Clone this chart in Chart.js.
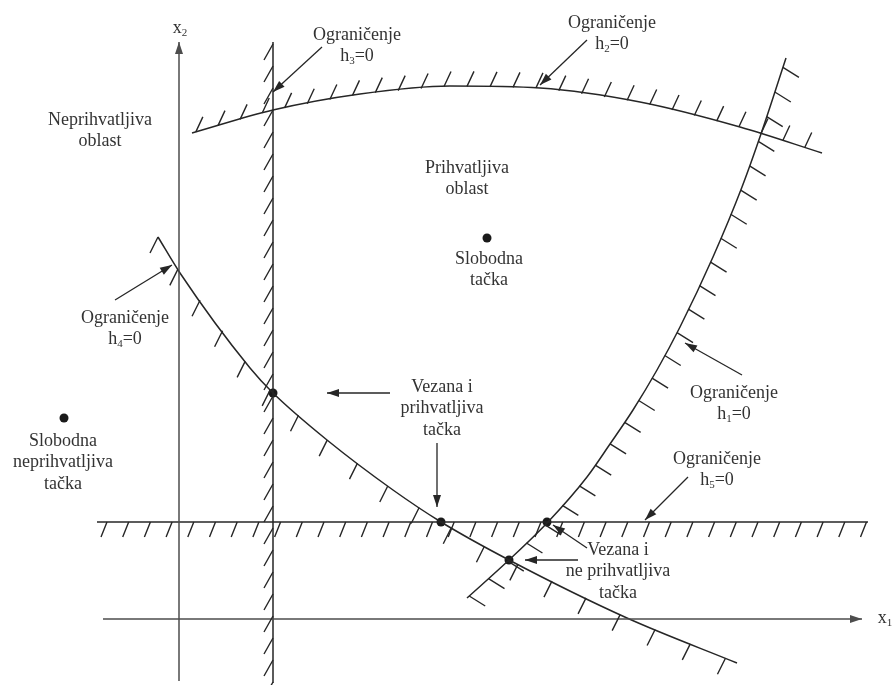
<!DOCTYPE html>
<html>
<head>
<meta charset="utf-8">
<script src="https://cdn.jsdelivr.net/npm/chart.js@4.4.1/dist/chart.umd.min.js"></script>
<style>
    body { margin: 0; background: #fff; }
    canvas { display: block; }
</style>
</head>
<body>
<canvas id="constraintChart" width="893" height="685"></canvas>
<script>
// Ogranicenja (x1 = horizontalno, x2 = vertikalno, ishodiste u presjeku osa)
const h1X = [288, 330, 369, 408, 431, 454, 478, 501, 534, 563, 583, 607];
const h1Y = [21, 59, 97, 142, 175, 209, 249, 292, 362, 432, 488, 561];

const h2X = [13, 94, 181, 271, 361, 461, 561, 643];
const h2Y = [486, 509, 525, 533, 531, 517, 492, 466];

const h3X = [94, 94];
const h3Y = [577, -64];

const h4X = [-21, 1, 71, 94, 148, 214, 262, 330, 448, 558];
const h4Y = [382, 346, 251, 226, 179, 129, 97, 59, 1, -44];

const h5X = [-82, 689];
const h5Y = [97, 97];

// ose
const x1AxisX = [-76, 683];
const x1AxisY = [0, 0];
const x2AxisX = [0, 0];
const x2AxisY = [-62, 577];

// karakteristicne tacke
const pointX = [94, 262, 368, 330, 308, -115];
const pointY = [226, 97, 97, 59, 381, 201];

// strelice koje pokazuju na ogranicenja / tacke (od -> do)
const arrowFromX = [143, 408, -64, 211, 258, 563, 509, 408, 399];
const arrowFromY = [572, 579, 319, 226, 176, 244, 142, 71, 59];
const arrowToX = [94, 361, -7, 148, 258, 506, 466, 374, 346];
const arrowToY = [527, 534, 354, 226, 112, 276, 99, 94, 59];

// natpisi (linije teksta, _ oznacava indeks)
const noteTexts = [
    ['Ograničenje', 'h_3=0'],
    ['Ograničenje', 'h_2=0'],
    ['Neprihvatljiva', 'oblast'],
    ['Prihvatljiva', 'oblast'],
    ['Slobodna', 'tačka'],
    ['Ograničenje', 'h_4=0'],
    ['Slobodna', 'neprihvatljiva', 'tačka'],
    ['Vezana i', 'prihvatljiva', 'tačka'],
    ['Ograničenje', 'h_1=0'],
    ['Ograničenje', 'h_5=0'],
    ['Vezana i', 'ne prihvatljiva', 'tačka'],
    ['x_2'],
    ['x_1']
];
const noteX = [178, 433, -79, 288, 310, -54, -116, 263, 555, 538, 439, 1, 706];
const noteY = [584, 596, 499, 451, 360, 301, 178, 232, 226, 160, 69, 591, 1];

const lineColor = '#262626';
const axisColor = '#4d4d4d';
const textColor = '#333333';

function toPoints(xs, ys) {
    return xs.map((x, i) => ({ x: x, y: ys[i] }));
}

// crtanje srafure, strelica i teksta
const sketchPlugin = {
    id: 'sketch',
    afterDatasetsDraw(chart) {
        const ctx = chart.ctx;
        ctx.save();
        chart.data.datasets.forEach((ds, i) => {
            const pts = chart.getDatasetMeta(i).data.map(p => ({ x: p.x, y: p.y }));
            if (ds.hatch) {
                drawHatch(ctx, pts, ds.hatch, ds.borderColor);
            }
            if (ds.arrowHead) {
                drawArrowHead(ctx, pts[pts.length - 2], pts[pts.length - 1], ds.borderColor);
            }
        });

        const xs = chart.scales.x;
        const ys = chart.scales.y;
        ctx.fillStyle = textColor;
        ctx.textBaseline = 'middle';
        noteTexts.forEach((lines, i) => {
            const cx = xs.getPixelForValue(noteX[i]);
            const cy = ys.getPixelForValue(noteY[i]);
            lines.forEach((line, j) => drawRich(ctx, line, cx, cy + j * 21.5));
        });
        ctx.restore();
    }
};

function drawHatch(ctx, pts, h, color) {
    const seg = [];
    let total = 0;
    for (let i = 1; i < pts.length; i++) {
        const len = Math.hypot(pts[i].x - pts[i - 1].x, pts[i].y - pts[i - 1].y);
        seg.push(len);
        total += len;
    }
    ctx.strokeStyle = color;
    ctx.lineWidth = 1.4;
    ctx.beginPath();
    for (let d = h.start; d <= total; d += h.step) {
        let rest = d, k = 0;
        while (k < seg.length - 1 && rest > seg[k]) { rest -= seg[k]; k++; }
        const t = seg[k] ? rest / seg[k] : 0;
        const px = pts[k].x + (pts[k + 1].x - pts[k].x) * t;
        const py = pts[k].y + (pts[k + 1].y - pts[k].y) * t;
        ctx.moveTo(px, py);
        ctx.lineTo(px + h.dx, py + h.dy);
    }
    ctx.stroke();
}

function drawArrowHead(ctx, from, to, color) {
    const ang = Math.atan2(to.y - from.y, to.x - from.x);
    const len = 12, half = 4;
    ctx.fillStyle = color;
    ctx.beginPath();
    ctx.moveTo(to.x, to.y);
    ctx.lineTo(to.x - len * Math.cos(ang) + half * Math.sin(ang), to.y - len * Math.sin(ang) - half * Math.cos(ang));
    ctx.lineTo(to.x - len * Math.cos(ang) - half * Math.sin(ang), to.y - len * Math.sin(ang) + half * Math.cos(ang));
    ctx.closePath();
    ctx.fill();
}

// tekst sa indeksom: "h_3=0" -> h, mali 3, =0
function drawRich(ctx, text, cx, cy) {
    const parts = [];
    const m = text.match(/^(.*?)_(\d)(.*)$/);
    if (m) {
        parts.push({ t: m[1], sub: false });
        parts.push({ t: m[2], sub: true });
        if (m[3]) parts.push({ t: m[3], sub: false });
    } else {
        parts.push({ t: text, sub: false });
    }
    const big = '18px "Liberation Serif", "Times New Roman", serif';
    const small = '11px "Liberation Serif", "Times New Roman", serif';
    let width = 0;
    parts.forEach(p => {
        ctx.font = p.sub ? small : big;
        p.w = ctx.measureText(p.t).width;
        width += p.w;
    });
    let x = cx - width / 2;
    ctx.textAlign = 'left';
    parts.forEach(p => {
        ctx.font = p.sub ? small : big;
        ctx.fillText(p.t, x, p.sub ? cy + 5 : cy);
        x += p.w;
    });
}

function lineSet(xs, ys, color, width, extra) {
    return Object.assign({
        data: toPoints(xs, ys),
        showLine: true,
        borderColor: color,
        borderWidth: width,
        pointRadius: 0,
        fill: false
    }, extra || {});
}

const datasets = [
    lineSet(x1AxisX, x1AxisY, axisColor, 1.5, { arrowHead: true }),
    lineSet(x2AxisX, x2AxisY, axisColor, 1.5, { arrowHead: true }),
    lineSet(h1X, h1Y, lineColor, 1.5, { cubicInterpolationMode: 'monotone', hatch: { start: 3, step: 26, dx: 16, dy: 10 } }),
    lineSet(h2X, h2Y, lineColor, 1.5, { cubicInterpolationMode: 'monotone', hatch: { start: 4, step: 23, dx: 7, dy: -15 } }),
    lineSet(h3X, h3Y, lineColor, 1.5, { hatch: { start: 2, step: 22, dx: -9, dy: 16 } }),
    lineSet(h4X, h4Y, lineColor, 1.5, { cubicInterpolationMode: 'monotone', hatch: { start: 0, step: 38, dx: -8, dy: 16 } }),
    lineSet(h5X, h5Y, lineColor, 1.5, { hatch: { start: 10, step: 21.7, dx: -6, dy: 15 } })
];

arrowFromX.forEach((x, i) => {
    datasets.push(lineSet([x, arrowToX[i]], [arrowFromY[i], arrowToY[i]], lineColor, 1.3, { arrowHead: true }));
});

datasets.push({
    data: toPoints(pointX, pointY),
    showLine: false,
    pointRadius: 4.5,
    pointBackgroundColor: '#1a1a1a',
    pointBorderWidth: 0
});

const ctx = document.getElementById('constraintChart').getContext('2d');
const constraintChart = new Chart(ctx, {
    type: 'scatter',
    data: { datasets: datasets },
    options: {
        responsive: false,
        animation: false,
        layout: { padding: 0, autoPadding: false },
        plugins: {
            legend: { display: false },
            tooltip: { enabled: false }
        },
        scales: {
            x: { type: 'linear', min: -179, max: 714, display: false },
            y: { type: 'linear', min: -66, max: 619, display: false }
        }
    },
    plugins: [sketchPlugin]
});
</script>
</body>
</html>
